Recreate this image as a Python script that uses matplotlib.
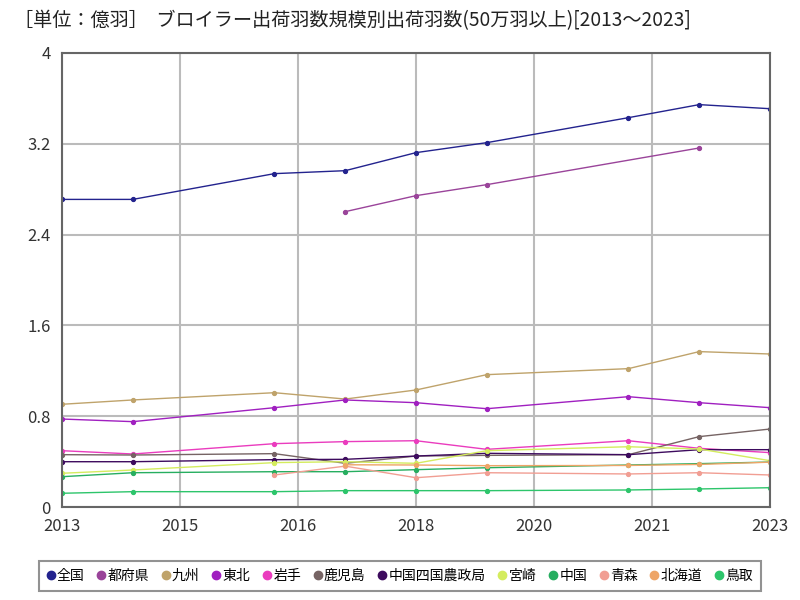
import matplotlib
matplotlib.use("Agg")
import matplotlib.pyplot as plt
import numpy as np

plt.rcParams['font.family'] = ['Noto Sans CJK JP', 'DejaVu Sans']

# survey years (2015 and 2020 missing)
years = [2013, 2014, 2016, 2017, 2018, 2019, 2021, 2022, 2023]

zenkoku   = [2.71, 2.71, 2.937, 2.963, 3.122, 3.21, 3.43, 3.545, 3.509]
tofuken_years = [2017, 2018, 2019, 2022]
tofuken   = [2.602, 2.743, 2.84, 3.163]
kyushu    = [0.905, 0.943, 1.007, 0.951, 1.031, 1.166, 1.219, 1.369, 1.348]
tohoku    = [0.775, 0.752, 0.875, 0.943, 0.919, 0.866, 0.972, 0.919, 0.875]
iwate     = [0.496, 0.467, 0.558, 0.576, 0.584, 0.508, 0.584, 0.517, 0.479]
kagoshima = [0.461, 0.458, 0.470, 0.385, 0.449, 0.455, 0.461, 0.620, 0.687]
chushikoku = [0.399, 0.399, 0.417, 0.420, 0.449, 0.473, 0.461, 0.505, 0.505]
miyazaki  = [0.297, 0.326, 0.391, 0.399, 0.385, 0.496, 0.531, 0.511, 0.408]
chugoku   = [0.267, 0.302, 0.311, 0.311, 0.329, 0.346, 0.370, 0.382, 0.396]
aomori_years = [2016, 2017, 2018, 2019, 2021, 2022, 2023]
aomori    = [0.282, 0.36, 0.258, 0.302, 0.291, 0.302, 0.282]
hokkaido_years = [2017, 2018, 2019, 2021, 2022, 2023]
hokkaido  = [0.372, 0.370, 0.364, 0.366, 0.375, 0.395]
tottori   = [0.121, 0.135, 0.135, 0.144, 0.144, 0.144, 0.150, 0.159, 0.170]

series = [
    ('全国', years, zenkoku, '#23238e'),
    ('都府県', tofuken_years, tofuken, '#9a449a'),
    ('九州', years, kyushu, '#bfa36b'),
    ('東北', years, tohoku, '#a020c0'),
    ('岩手', years, iwate, '#ea3cbe'),
    ('鹿児島', years, kagoshima, '#766464'),
    ('中国四国農政局', years, chushikoku, '#3d0b5e'),
    ('宮崎', years, miyazaki, '#d4ec5e'),
    ('中国', years, chugoku, '#27ae60'),
    ('青森', aomori_years, aomori, '#f19e93'),
    ('北海道', hokkaido_years, hokkaido, '#eea567'),
    ('鳥取', years, tottori, '#2dc56b'),
]

xticks = np.linspace(2013, 2023, 7)
xlabels = ['2013', '2015', '2016', '2018', '2020', '2021', '2023']
yticks = [0, 0.8, 1.6, 2.4, 3.2, 4]
ylabels = ['0', '0.8', '1.6', '2.4', '3.2', '4']

fig = plt.figure(figsize=(8, 6), dpi=100)
ax = fig.add_axes([0.0775, 0.155, 0.885, 0.7567])

for name, xs, ys, c in series:
    ax.plot(xs, ys, color=c, lw=1.0, marker='o', markersize=2.8, label=name)

ax.set_xlim(2013, 2023)
ax.set_ylim(0, 4)
ax.set_xticks(xticks)
ax.set_xticklabels(xlabels)
ax.set_yticks(yticks)
ax.set_yticklabels(ylabels)
ax.tick_params(length=0, labelsize=12, colors='#333333', pad=8)
ax.grid(True, color='#bbbbbb', lw=1.5)
ax.set_axisbelow(True)
for s in ax.spines.values():
    s.set_color('#666666')
    s.set_linewidth(1.5)

fig.text(0.018, 0.965, '［単位：億羽］  ブロイラー出荷羽数規模別出荷羽数(50万羽以上)[2013～2023]',
         fontsize=13.8, color='#222222', va='center', ha='left')

leg = fig.legend(loc='center', bbox_to_anchor=(0.50, 0.04), ncol=12, fontsize=10,
                 frameon=True, fancybox=False, edgecolor='#777777', handlelength=0.5,
                 handletextpad=0.2, columnspacing=0.95, borderpad=0.55)
for h in leg.legend_handles:
    h.set_linestyle('')
    h.set_markersize(6)
leg.get_frame().set_linewidth(1.5)

fig.savefig('out.png', dpi=100)
